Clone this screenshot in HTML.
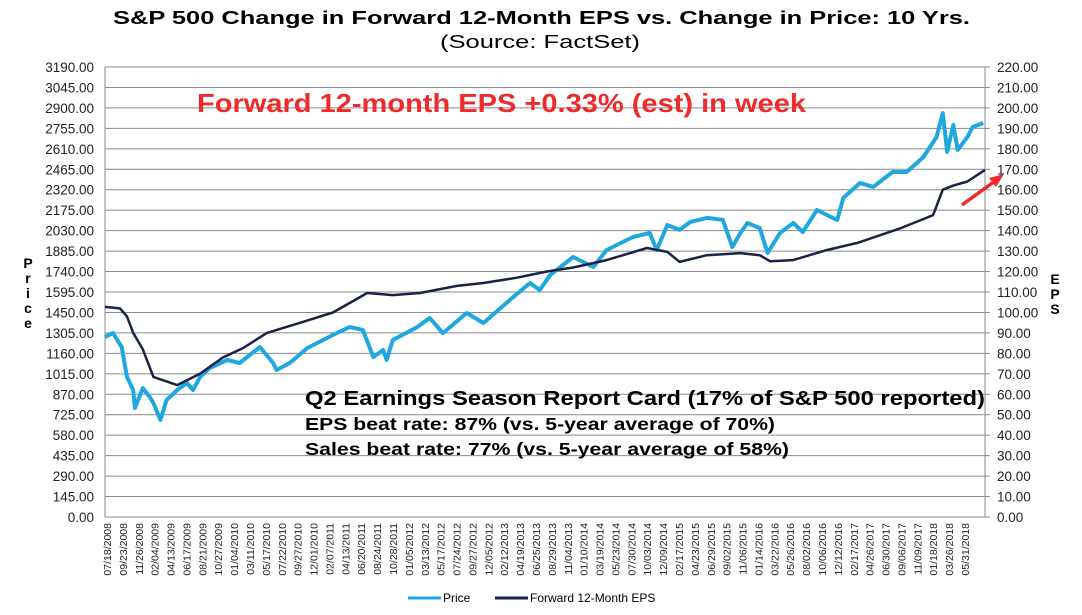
<!DOCTYPE html>
<html><head><meta charset="utf-8"><style>
body{margin:0;background:#fff;}
svg{display:block;font-family:"Liberation Sans",Arial,sans-serif;}
</style></head><body>
<svg id="chart" width="1082" height="615" viewBox="0 0 1082 615">
<text x="113" y="24" textLength="857" lengthAdjust="spacingAndGlyphs" font-size="18" font-weight="bold">S&amp;P 500 Change in Forward 12-Month EPS vs. Change in Price: 10 Yrs.</text>
<text x="440" y="48" textLength="200" lengthAdjust="spacingAndGlyphs" font-size="18">(Source: FactSet)</text>
<g id="grid"></g>
<g id="laxis"></g>
<g id="raxis"></g>
<g id="xaxis"></g>
<g id="series"></g>
<g font-weight="bold" font-size="14" text-anchor="middle">
<text x="28" y="268">P</text><text x="28" y="283">r</text><text x="28" y="298">i</text><text x="28" y="313">c</text><text x="28" y="328">e</text></g>
<g font-weight="bold" font-size="14" text-anchor="middle">
<text x="1055" y="284">E</text><text x="1055" y="299">P</text><text x="1055" y="314">S</text></g>
<text x="197" y="112" textLength="609" lengthAdjust="spacingAndGlyphs" font-size="26" font-weight="bold" fill="#ee2a2a">Forward 12-month EPS +0.33% (est) in week</text>
<g font-weight="bold" fill="#000">
<text x="305" y="405" textLength="680" lengthAdjust="spacingAndGlyphs" font-size="20">Q2 Earnings Season Report Card (17% of S&amp;P 500 reported)</text>
<text x="305" y="430" textLength="470" lengthAdjust="spacingAndGlyphs" font-size="17.5">EPS beat rate: 87% (vs. 5-year average of 70%)</text>
<text x="305" y="455" textLength="484" lengthAdjust="spacingAndGlyphs" font-size="17.5">Sales beat rate: 77% (vs. 5-year average of 58%)</text>
</g>
<g>
<line x1="962" y1="205" x2="995" y2="181" stroke="#ee2a2a" stroke-width="3.5"/>
<polygon points="1004,174 989,178 996,187" fill="#ee2a2a"/></g>
<g font-size="12">
<line x1="408" y1="598" x2="441" y2="598" stroke="#1fa8e0" stroke-width="3"/>
<text x="443" y="602">Price</text>
<line x1="495" y1="598" x2="528" y2="598" stroke="#1a2246" stroke-width="3"/>
<text x="530" y="602">Forward 12-Month EPS</text>
</g>
</svg>
<script>
const xLabels=["07/18/2008","09/23/2008","11/26/2008","02/04/2009","04/13/2009","06/17/2009","08/21/2009","10/27/2009","01/04/2010","03/11/2010","05/17/2010","07/22/2010","09/27/2010","12/01/2010","02/07/2011","04/13/2011","06/20/2011","08/24/2011","10/28/2011","01/05/2012","03/13/2012","05/17/2012","07/24/2012","09/27/2012","12/05/2012","02/12/2013","04/19/2013","06/25/2013","08/29/2013","11/04/2013","01/10/2014","03/19/2014","05/23/2014","07/30/2014","10/03/2014","12/09/2014","02/17/2015","04/23/2015","06/29/2015","09/02/2015","11/06/2015","01/14/2016","03/22/2016","05/26/2016","08/02/2016","10/06/2016","12/12/2016","02/17/2017","04/26/2017","06/30/2017","09/06/2017","11/09/2017","01/18/2018","03/26/2018","05/31/2018"];
const leftTicks=[0,145,290,435,580,725,870,1015,1160,1305,1450,1595,1740,1885,2030,2175,2320,2465,2610,2755,2900,3045,3190];
const rightTicks=[0,10,20,30,40,50,60,70,80,90,100,110,120,130,140,150,160,170,180,190,200,210,220];
// years offset from 2008.55
const priceT=[0,.09,.19,.25,.32,.34,.43,.51,.55,.63,.70,.82,.93,1.0,1.08,1.19,1.39,1.53,1.76,1.91,1.95,2.10,2.30,2.59,2.78,2.93,3.05,3.16,3.20,3.27,3.55,3.69,3.84,4.11,4.30,4.60,4.83,4.94,5.06,5.32,5.55,5.70,6.0,6.19,6.27,6.39,6.53,6.65,6.84,7.02,7.13,7.22,7.30,7.44,7.53,7.67,7.82,7.93,8.09,8.27,8.32,8.39,8.58,8.73,8.95,9.11,9.30,9.45,9.52,9.57,9.64,9.69,9.80,9.86,9.98];
const priceV=[1276,1304,1205,992,900,773,914,850,808,688,830,900,950,900,992,1056,1113,1092,1205,1092,1042,1092,1198,1290,1347,1326,1134,1184,1113,1255,1347,1411,1304,1446,1375,1538,1659,1609,1716,1843,1772,1893,1985,2013,1893,2070,2035,2091,2120,2106,1914,2013,2084,2049,1872,2013,2084,2020,2176,2120,2106,2262,2368,2340,2446,2446,2552,2694,2864,2588,2779,2602,2694,2765,2793];
const epsT=[0,.17,.25,.32,.43,.55,.82,1.08,1.34,1.57,1.84,2.22,2.59,2.98,3.27,3.58,4.0,4.30,4.68,5.02,5.32,5.70,6.16,6.39,6.53,6.84,7.22,7.44,7.56,7.82,8.20,8.55,9.03,9.41,9.52,9.64,9.80,10.0];
const epsV=[102.7,102,98,90,82,68.5,64.5,70,78,82.6,90,95,100,109.5,108.5,109.5,113,114.4,117,120,122,125.6,131.5,129.6,124.7,128,129,128,125,125.6,130.5,134,141,147.6,160,162,164,169.7];
const L=105,R=985,T=67,B=517,NS="http://www.w3.org/2000/svg";
const xS=t=>L+t/10*(R-L);
const yL=v=>B-v/3190*(B-T);
const yR=v=>B-v/220*(B-T);
function mk(tag,attrs,parent){const e=document.createElementNS(NS,tag);for(const k in attrs)e.setAttribute(k,attrs[k]);parent.appendChild(e);return e;}
const grid=document.getElementById('grid'),la=document.getElementById('laxis'),ra=document.getElementById('raxis'),xa=document.getElementById('xaxis'),se=document.getElementById('series');
leftTicks.forEach(v=>{const y=yL(v);
 const g=mk('line',{x1:L,x2:R,y1:y,y2:y,stroke:'#8a8a8a','stroke-width':1},grid);
 
 
 const t=mk('text',{x:94,y:y+5,'text-anchor':'end','font-size':13.5,fill:'#222'},la);t.textContent=v.toFixed(2);
 
 
 mk('line',{x1:R,x2:R+5,y1:y,y2:y,stroke:'#8a8a8a'},grid);
});
rightTicks.forEach(v=>{const y=yR(v);
 const t=mk('text',{x:997,y:y+5,'font-size':13.5,fill:'#222'},ra);t.textContent=v.toFixed(2);
 
 
});
mk('line',{x1:L,x2:L,y1:T,y2:B,stroke:'#8a8a8a'},grid);
mk('line',{x1:R,x2:R,y1:T,y2:B,stroke:'#8a8a8a'},grid);
xLabels.forEach((s,i)=>{const x=107+i*(965-107)/(xLabels.length-1);
 const t=mk('text',{x:0,y:0,'font-size':10.5,'text-anchor':'end',transform:`translate(${x+4},523) rotate(-90)`,fill:'#222'},xa);t.textContent=s;
 
 
});
const pp=mk('path',{d:priceT.map((t,i)=>(i?'L':'M')+xS(t).toFixed(1)+','+yL(priceV[i]).toFixed(1)).join(''),fill:'none',stroke:'#1fa8e0','stroke-width':4,'stroke-linejoin':'round'},se);


const ep=mk('path',{d:epsT.map((t,i)=>(i?'L':'M')+xS(t).toFixed(1)+','+yR(epsV[i]).toFixed(1)).join(''),fill:'none',stroke:'#1a2246','stroke-width':2.5,'stroke-linejoin':'round'},se);


</script>
</body></html>
